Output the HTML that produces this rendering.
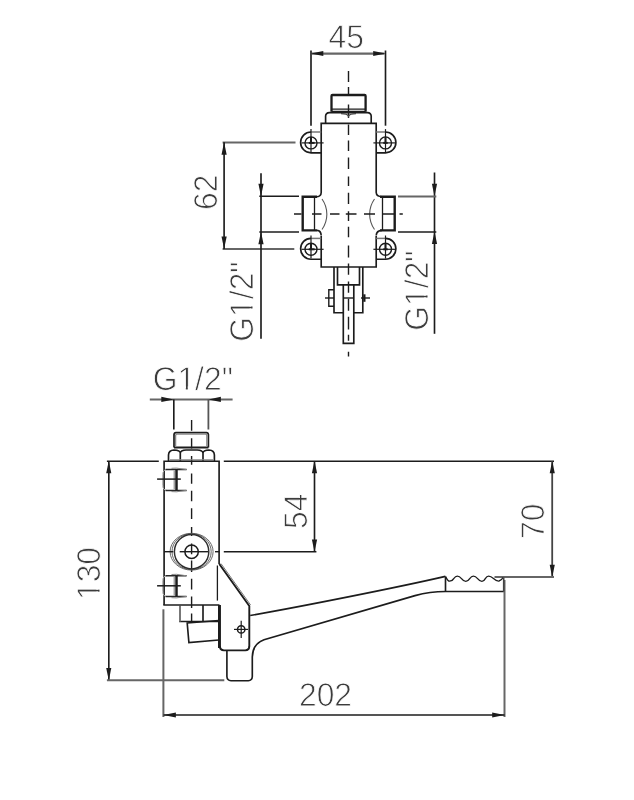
<!DOCTYPE html>
<html lang="en">
<head>
<meta charset="utf-8">
<title>Dimension drawing</title>
<style>
html,body{margin:0;padding:0;background:#fff;}
body{width:634px;height:800px;overflow:hidden;}
svg{display:block;}
text{font-family:"Liberation Sans",sans-serif;fill:#3c3c3c;stroke:#fff;stroke-width:0.85px;text-rendering:geometricPrecision;}
svg{will-change:transform;}
</style>
</head>
<body>
<svg width="634" height="800" viewBox="0 0 634 800">
<rect width="634" height="800" fill="#fff"/>
<line x1="311" y1="50.5" x2="311" y2="125.7" stroke="#1c1c1c" stroke-width="1.65"/>
<line x1="385.5" y1="50.5" x2="385.5" y2="125.7" stroke="#1c1c1c" stroke-width="1.65"/>
<line x1="312" y1="53.6" x2="384.5" y2="53.6" stroke="#666666" stroke-width="2.3"/>
<polygon points="310.8,53.5 323.3,51.0 323.3,56.0" fill="#1c1c1c"/>
<polygon points="385.7,53.5 373.2,51.0 373.2,56.0" fill="#1c1c1c"/>
<g transform="translate(346.3 48.0) scale(0.965 1)"><text x="0" y="0" font-size="33" text-anchor="middle">45</text></g>
<path d="M348.5 71V82M348.5 87V96M348.5 104.6V118M348.5 124.5V135M348.5 140.6V151M348.5 157.6V169M348.5 176.6V186.1M348.5 192.7V204M348.5 211.3V221.1M348.5 226.8V237.2M348.5 245.5V257.5M348.5 263.5V274.8M348.5 281.5V292.8M348.5 298.8V310.8M348.5 316.8V329.6M348.5 334.8V340.8M348.5 351.8V356.5" fill="none" stroke="#1c1c1c" stroke-width="1.4"/>
<path d="M331.5 111.7V96Q331.5 95 332.5 95H364.6Q365.6 95 365.6 96V111.7" fill="none" stroke="#1c1c1c" stroke-width="2.3"/>
<line x1="331.5" y1="111.3" x2="365.6" y2="111.3" stroke="#1c1c1c" stroke-width="1.3"/>
<line x1="331.5" y1="109.1" x2="365.6" y2="109.1" stroke="#1c1c1c" stroke-width="1.3"/>
<path d="M325.6 123.3V116Q325.8 112.8 329.4 112.6H367.4Q371 112.8 371.2 116V123.3" fill="none" stroke="#1c1c1c" stroke-width="1.65"/>
<path d="M341 113.6Q347.5 113.6 348.5 116.4Q349.5 113.6 356 113.6" fill="none" stroke="#444" stroke-width="1.2"/>
<path d="M321.2 236V267H376.2V236" fill="none" stroke="#1c1c1c" stroke-width="1.65"/>
<path d="M317 196.7Q321 196.5 321.2 192.5V123.3H376.2V192.5Q376.4 196.5 382 196.7" fill="none" stroke="#1c1c1c" stroke-width="1.65"/>
<path d="M317 230.4Q321 230.6 321.2 235.5" fill="none" stroke="#1c1c1c" stroke-width="1.65"/>
<path d="M382 230.4Q376.4 230.6 376.2 235.5" fill="none" stroke="#1c1c1c" stroke-width="1.65"/>
<path d="M317 196.7H302.7V230.4H317" fill="none" stroke="#1c1c1c" stroke-width="2.4"/>
<line x1="314.5" y1="196.7" x2="314.5" y2="230.4" stroke="#1c1c1c" stroke-width="1.3"/>
<path d="M380 196.7H394.7V230.4H380" fill="none" stroke="#1c1c1c" stroke-width="2.4"/>
<line x1="382.5" y1="196.7" x2="382.5" y2="230.4" stroke="#1c1c1c" stroke-width="1.3"/>
<path d="M322 199A26.4 26.4 0 0 1 322 229.5" fill="none" stroke="#555" stroke-width="1.1"/>
<path d="M374.5 199A26.4 26.4 0 0 0 374.5 229.5" fill="none" stroke="#555" stroke-width="1.1"/>
<path d="M321.2 152.8H311.0A10.4 10.4 0 0 1 311.0 132.0" fill="none" stroke="#1c1c1c" stroke-width="1.65"/>
<line x1="311.0" y1="132.0" x2="321.2" y2="132.0" stroke="#777" stroke-width="1.5"/>
<circle cx="311.0" cy="142.9" r="6.0" fill="none" stroke="#1c1c1c" stroke-width="1.4"/>
<line x1="311.0" y1="129.1" x2="311.0" y2="152.20000000000002" stroke="#1c1c1c" stroke-width="1.2"/>
<line x1="301.5" y1="142.9" x2="323.6" y2="142.9" stroke="#1c1c1c" stroke-width="1.2"/>
<line x1="311.0" y1="136.9" x2="311.0" y2="142.9" stroke="#1c1c1c" stroke-width="2.0"/>
<line x1="308.8" y1="142.9" x2="314.6" y2="142.9" stroke="#1c1c1c" stroke-width="2.0"/>
<path d="M321.2 259.2H311.0A10.4 10.4 0 0 1 311.0 238.4" fill="none" stroke="#1c1c1c" stroke-width="1.65"/>
<line x1="311.0" y1="238.4" x2="321.2" y2="238.4" stroke="#777" stroke-width="1.5"/>
<circle cx="311.0" cy="249.3" r="6.0" fill="none" stroke="#1c1c1c" stroke-width="1.4"/>
<line x1="311.0" y1="235.5" x2="311.0" y2="258.6" stroke="#1c1c1c" stroke-width="1.2"/>
<line x1="301.5" y1="249.3" x2="323.6" y2="249.3" stroke="#1c1c1c" stroke-width="1.2"/>
<line x1="311.0" y1="243.3" x2="311.0" y2="249.3" stroke="#1c1c1c" stroke-width="2.0"/>
<line x1="308.8" y1="249.3" x2="314.6" y2="249.3" stroke="#1c1c1c" stroke-width="2.0"/>
<path d="M376.2 152.8H385.5A10.4 10.4 0 0 0 385.5 132.0" fill="none" stroke="#1c1c1c" stroke-width="1.65"/>
<line x1="385.5" y1="132.0" x2="376.2" y2="132.0" stroke="#777" stroke-width="1.5"/>
<circle cx="385.5" cy="142.9" r="6.0" fill="none" stroke="#1c1c1c" stroke-width="1.4"/>
<line x1="385.5" y1="129.1" x2="385.5" y2="152.20000000000002" stroke="#1c1c1c" stroke-width="1.2"/>
<line x1="373.4" y1="142.9" x2="395.2" y2="142.9" stroke="#1c1c1c" stroke-width="1.2"/>
<line x1="385.5" y1="136.9" x2="385.5" y2="142.9" stroke="#1c1c1c" stroke-width="2.0"/>
<line x1="383.3" y1="142.9" x2="387.7" y2="142.9" stroke="#1c1c1c" stroke-width="2.0"/>
<path d="M376.2 259.2H385.5A10.4 10.4 0 0 0 385.5 238.4" fill="none" stroke="#1c1c1c" stroke-width="1.65"/>
<line x1="385.5" y1="238.4" x2="376.2" y2="238.4" stroke="#777" stroke-width="1.5"/>
<circle cx="385.5" cy="249.3" r="6.0" fill="none" stroke="#1c1c1c" stroke-width="1.4"/>
<line x1="385.5" y1="235.5" x2="385.5" y2="258.6" stroke="#1c1c1c" stroke-width="1.2"/>
<line x1="373.4" y1="249.3" x2="395.2" y2="249.3" stroke="#1c1c1c" stroke-width="1.2"/>
<line x1="385.5" y1="243.3" x2="385.5" y2="249.3" stroke="#1c1c1c" stroke-width="2.0"/>
<line x1="383.3" y1="249.3" x2="387.7" y2="249.3" stroke="#1c1c1c" stroke-width="2.0"/>
<path d="M294 214H301.5M312 214H321.5M330 214H339.5M345.8 214H356.5M364 214H375M382.5 214H394M399.5 214H402.8" fill="none" stroke="#1c1c1c" stroke-width="1.4"/>
<path d="M334 267V312.7H343.3M353.8 312.7H362.8V267" fill="none" stroke="#1c1c1c" stroke-width="1.65"/>
<path d="M337.5 267V284.8H359.5V267" fill="none" stroke="#1c1c1c" stroke-width="1.65"/>
<path d="M343.3 284.8V343.4H353.8V284.8" fill="none" stroke="#1c1c1c" stroke-width="1.65"/>
<line x1="343.3" y1="298" x2="353.8" y2="298" stroke="#1c1c1c" stroke-width="1.4"/>
<path d="M334 289.8H328.8V306.3H334" fill="none" stroke="#1c1c1c" stroke-width="1.4"/>
<line x1="325" y1="298" x2="334" y2="298" stroke="#1c1c1c" stroke-width="1.4"/>
<line x1="361" y1="298" x2="370" y2="298" stroke="#1c1c1c" stroke-width="1.4"/>
<line x1="364.4" y1="294.3" x2="364.4" y2="301.8" stroke="#1c1c1c" stroke-width="2.2"/>
<line x1="222.6" y1="142.6" x2="295.5" y2="142.6" stroke="#666666" stroke-width="2.0"/>
<line x1="222.6" y1="248.9" x2="294.3" y2="248.9" stroke="#666666" stroke-width="2.0"/>
<line x1="224.1" y1="142.3" x2="224.1" y2="248.9" stroke="#1c1c1c" stroke-width="1.65"/>
<polygon points="224.1,142.3 221.5,154.8 226.7,154.8" fill="#1c1c1c"/>
<polygon points="224.1,248.9 221.5,236.4 226.7,236.4" fill="#1c1c1c"/>
<g transform="translate(217.3 192.3) rotate(-90) scale(0.965 1)"><text x="0" y="0" font-size="33" text-anchor="middle">62</text></g>
<line x1="261" y1="173.2" x2="261" y2="338.8" stroke="#1c1c1c" stroke-width="1.65"/>
<polygon points="261.0,196.3 258.4,183.8 263.6,183.8" fill="#1c1c1c"/>
<polygon points="261.0,231.8 258.4,244.3 263.6,244.3" fill="#1c1c1c"/>
<line x1="259.3" y1="196.3" x2="299" y2="196.3" stroke="#1c1c1c" stroke-width="1.4"/>
<line x1="259.3" y1="232" x2="299" y2="232" stroke="#1c1c1c" stroke-width="1.4"/>
<g transform="translate(253.3 301.5) rotate(-90) scale(0.965 1)"><text x="0" y="0" font-size="33" text-anchor="middle">G1/2&quot;</text><rect x="-14.64" y="-3.67" width="7.41" height="5.17" fill="#fff"/><rect x="-5.19" y="-3.67" width="7.05" height="5.17" fill="#fff"/></g>
<line x1="434.5" y1="172.5" x2="434.5" y2="333.8" stroke="#1c1c1c" stroke-width="1.65"/>
<polygon points="434.5,196.3 431.9,183.8 437.1,183.8" fill="#1c1c1c"/>
<polygon points="434.5,231.5 431.9,244.0 437.1,244.0" fill="#1c1c1c"/>
<line x1="398" y1="196.5" x2="436.3" y2="196.5" stroke="#666666" stroke-width="2.0"/>
<line x1="398" y1="232" x2="436.3" y2="232" stroke="#1c1c1c" stroke-width="1.5"/>
<g transform="translate(427.6 290.5) rotate(-90) scale(0.965 1)"><text x="0" y="0" font-size="33" text-anchor="middle">G1/2&quot;</text><rect x="-14.64" y="-3.67" width="7.41" height="5.17" fill="#fff"/><rect x="-5.19" y="-3.67" width="7.05" height="5.17" fill="#fff"/></g>
<line x1="149.8" y1="399.4" x2="232.6" y2="399.4" stroke="#666666" stroke-width="2.0"/>
<polygon points="173.8,399.4 161.3,396.8 161.3,401.9" fill="#1c1c1c"/>
<polygon points="208.4,399.4 220.9,396.8 220.9,401.9" fill="#1c1c1c"/>
<line x1="173.8" y1="399.4" x2="173.8" y2="429.5" stroke="#1c1c1c" stroke-width="1.65"/>
<line x1="208.4" y1="399.4" x2="208.4" y2="429.5" stroke="#555" stroke-width="1.8"/>
<g transform="translate(192.8 390) scale(0.965 1)"><text x="0" y="0" font-size="33" text-anchor="middle">G1/2&quot;</text><rect x="-14.64" y="-3.67" width="7.41" height="5.17" fill="#fff"/><rect x="-5.19" y="-3.67" width="7.05" height="5.17" fill="#fff"/></g>
<path d="M191.6 420V430.7M191.6 438.3V448.4M191.6 456V464.8M191.6 473.6V483.7M191.6 490.7V501.2M191.6 508.2V518.9M191.6 527.1V536M191.6 543.5V554.3M191.6 560.6V572M191.6 578.8V589.6M191.6 596.5V607.9M191.6 613.5V622.4" fill="none" stroke="#1c1c1c" stroke-width="1.4"/>
<path d="M174 447.5V434.6Q174.1 432.7 176 432.6H206.4Q208.3 432.7 208.4 434.6V447.5" fill="none" stroke="#1c1c1c" stroke-width="1.7"/>
<path d="M175.6 446V435.6Q175.7 434.3 177 434.2H205.4Q206.7 434.3 206.8 435.6V446" fill="none" stroke="#888" stroke-width="1.3"/>
<line x1="174" y1="447.4" x2="208.4" y2="447.4" stroke="#1c1c1c" stroke-width="2.0"/>
<path d="M168.5 461.3V455Q168.7 450.2 174 450Q180 450.2 180.3 453V461.3M180.3 453Q180.8 450.2 186 450H197.3Q202.5 450.2 203 453V461.3M203 453Q203.3 450.2 209 450Q214.2 450.2 214.4 455V461.3" fill="none" stroke="#1c1c1c" stroke-width="1.65"/>
<line x1="170" y1="459.8" x2="213" y2="459.8" stroke="#888" stroke-width="1.2"/>
<line x1="106.9" y1="461.2" x2="158.8" y2="461.2" stroke="#1c1c1c" stroke-width="1.65"/>
<line x1="223.8" y1="461.2" x2="554" y2="461.2" stroke="#1c1c1c" stroke-width="1.65"/>
<path d="M164.1 605V461.2H219.1V564" fill="none" stroke="#1c1c1c" stroke-width="1.65"/>
<path d="M163.3 605H219.5" fill="none" stroke="#1c1c1c" stroke-width="1.65"/>
<path d="M167 469.5Q162.8 469.7 162.7 474.5V485.4Q162.8 490.2 167 490.4" fill="none" stroke="#aaa" stroke-width="1.0"/>
<path d="M186.6 469.5H165.5M186.6 490.4H165.5" fill="none" stroke="#2a2a2a" stroke-width="1.5"/>
<path d="M171.5 468.3L176.5 468.1L186 469.5M171.5 491.59999999999997L176.5 491.79999999999995L186 490.4" fill="none" stroke="#888" stroke-width="1.0"/>
<line x1="174.2" y1="470.5" x2="174.2" y2="489.4" stroke="#777" stroke-width="1.0"/>
<line x1="176.5" y1="469.5" x2="176.5" y2="490.4" stroke="#1c1c1c" stroke-width="2.5"/>
<line x1="157.1" y1="479.1" x2="180.8" y2="479.1" stroke="#1c1c1c" stroke-width="1.5"/>
<path d="M167 575.7Q162.8 575.9000000000001 162.7 580.7V591.5Q162.8 596.3 167 596.5" fill="none" stroke="#aaa" stroke-width="1.0"/>
<path d="M186.6 575.7H165.5M186.6 596.5H165.5" fill="none" stroke="#2a2a2a" stroke-width="1.5"/>
<path d="M171.5 574.5L176.5 574.3000000000001L186 575.7M171.5 597.7L176.5 597.9L186 596.5" fill="none" stroke="#888" stroke-width="1.0"/>
<line x1="174.2" y1="576.7" x2="174.2" y2="595.5" stroke="#777" stroke-width="1.0"/>
<line x1="176.5" y1="575.7" x2="176.5" y2="596.5" stroke="#1c1c1c" stroke-width="2.5"/>
<line x1="157.1" y1="585.8" x2="180.8" y2="585.8" stroke="#1c1c1c" stroke-width="1.5"/>
<ellipse cx="191.6" cy="551.7" rx="21.5" ry="18.4" fill="none" stroke="#6a6a6a" stroke-width="1.0"/>
<ellipse cx="191.6" cy="551.7" rx="19.6" ry="18" fill="none" stroke="#555" stroke-width="0.9"/>
<circle cx="191.6" cy="551.7" r="17.2" fill="none" stroke="#2e2e2e" stroke-width="1.45"/>
<circle cx="191.6" cy="551.7" r="6.7" fill="none" stroke="#1c1c1c" stroke-width="1.5"/>
<line x1="164.1" y1="551.7" x2="173.3" y2="551.7" stroke="#1c1c1c" stroke-width="1.4"/>
<line x1="179.7" y1="551.7" x2="208" y2="551.7" stroke="#1c1c1c" stroke-width="1.4"/>
<line x1="215" y1="551.7" x2="219.4" y2="551.7" stroke="#1c1c1c" stroke-width="1.4"/>
<line x1="223.8" y1="551.7" x2="316.4" y2="551.7" stroke="#1c1c1c" stroke-width="1.65"/>
<line x1="314.5" y1="461.2" x2="314.5" y2="551.7" stroke="#1c1c1c" stroke-width="1.65"/>
<polygon points="314.5,460.8 311.9,473.3 317.1,473.3" fill="#1c1c1c"/>
<polygon points="314.5,551.9 311.9,539.4 317.1,539.4" fill="#1c1c1c"/>
<g transform="translate(306.6 511.2) rotate(-90) scale(0.965 1)"><text x="0" y="0" font-size="33" text-anchor="middle">54</text></g>
<line x1="108.8" y1="461.2" x2="108.8" y2="680.3" stroke="#1c1c1c" stroke-width="1.65"/>
<polygon points="108.8,460.8 106.2,473.3 111.3,473.3" fill="#1c1c1c"/>
<polygon points="108.8,680.5 106.2,668.0 111.3,668.0" fill="#1c1c1c"/>
<line x1="106.9" y1="680.3" x2="224.3" y2="680.3" stroke="#666666" stroke-width="2.0"/>
<g transform="translate(100 573.5) rotate(-90) scale(0.965 1)"><text x="0" y="0" font-size="33" text-anchor="middle">130</text><rect x="-26.21" y="-3.67" width="7.41" height="5.17" fill="#fff"/><rect x="-16.76" y="-3.67" width="7.05" height="5.17" fill="#fff"/></g>
<line x1="552.2" y1="461.2" x2="552.2" y2="577" stroke="#444" stroke-width="1.8"/>
<polygon points="552.2,460.8 549.7,473.3 554.8,473.3" fill="#1c1c1c"/>
<polygon points="552.2,577.2 549.7,564.7 554.8,564.7" fill="#1c1c1c"/>
<line x1="494.5" y1="577" x2="554" y2="577" stroke="#666666" stroke-width="2.0"/>
<g transform="translate(543.5 521.2) rotate(-90) scale(0.965 1)"><text x="0" y="0" font-size="33" text-anchor="middle">70</text></g>
<line x1="163.4" y1="609.3" x2="163.4" y2="717" stroke="#666666" stroke-width="2.0"/>
<line x1="504.5" y1="580" x2="504.5" y2="717" stroke="#666666" stroke-width="2.0"/>
<line x1="163.6" y1="715" x2="504.5" y2="715" stroke="#1c1c1c" stroke-width="1.65"/>
<polygon points="163.4,715.0 175.9,712.5 175.9,717.5" fill="#1c1c1c"/>
<polygon points="504.7,715.0 492.2,712.5 492.2,717.5" fill="#1c1c1c"/>
<g transform="translate(325.5 706.3) scale(0.965 1)"><text x="0" y="0" font-size="33" text-anchor="middle">202</text></g>
<path d="M180 605V621.5H219" fill="none" stroke="#1c1c1c" stroke-width="1.65"/>
<line x1="180" y1="605.5" x2="180" y2="621.5" stroke="#777" stroke-width="2.0"/>
<line x1="203" y1="605" x2="203" y2="621.5" stroke="#1c1c1c" stroke-width="1.65"/>
<path d="M218.8 620.5L187.2 623L188.9 642.6L218.8 640" fill="none" stroke="#1c1c1c" stroke-width="1.65"/>
<line x1="217.4" y1="565.5" x2="217.4" y2="600.6" stroke="#1c1c1c" stroke-width="1.3"/>
<path d="M219.3 564L249.3 606V646.4Q249.1 650.2 245.3 650.4H223.9Q220.1 650.2 219.9 646.4V605" fill="none" stroke="#1c1c1c" stroke-width="1.9"/>
<path d="M221 563.6L250.6 605" fill="none" stroke="#777" stroke-width="1.0"/>
<line x1="219.3" y1="605" x2="219.3" y2="648" stroke="#1c1c1c" stroke-width="2.6"/>
<circle cx="241.2" cy="629.4" r="3.7" fill="none" stroke="#1c1c1c" stroke-width="1.5"/>
<line x1="241.2" y1="620.8" x2="241.2" y2="638" stroke="#1c1c1c" stroke-width="1.2"/>
<line x1="234" y1="629.4" x2="248" y2="629.4" stroke="#1c1c1c" stroke-width="1.2"/>
<path d="M226.9 650.4V676.5Q227.1 680.5 231 680.7H248.3Q252.1 680.5 252.3 676.5V657Q252.5 644 264 639.7L415 595.6Q430 591.6 445.5 591.5H503.7" fill="none" stroke="#1c1c1c" stroke-width="1.65"/>
<path d="M250.2 615.5C300 606.9 400 586.9 445.4 576.4" fill="none" stroke="#1c1c1c" stroke-width="1.65"/>
<path d="M445.5 576.6V591.5" fill="none" stroke="#1c1c1c" stroke-width="1.65"/>
<path d="M445.5 576.6Q448 581.4 449.7 581.2Q452.5 581 453.7 578.6Q455.5 576.1 457.3 576.1Q459.5 576.1 461.5 578.6Q463.5 581.3 465.8 581.3Q468 581.3 469.7 578.6Q471.5 576.1 473.4 576.1Q475.5 576.1 477.6 578.6Q479.7 581.3 481.9 581.3Q484 581.3 485.3 578.6Q486.8 576.1 488.6 576.1Q490.8 576.1 493.5 578.6Q496.5 581.3 499 581Q501.5 580.5 503 577.5" fill="none" stroke="#1c1c1c" stroke-width="1.3"/>
<path d="M503.7 591.5V577.5" fill="none" stroke="#444" stroke-width="1.6"/>
</svg>
</body>
</html>
